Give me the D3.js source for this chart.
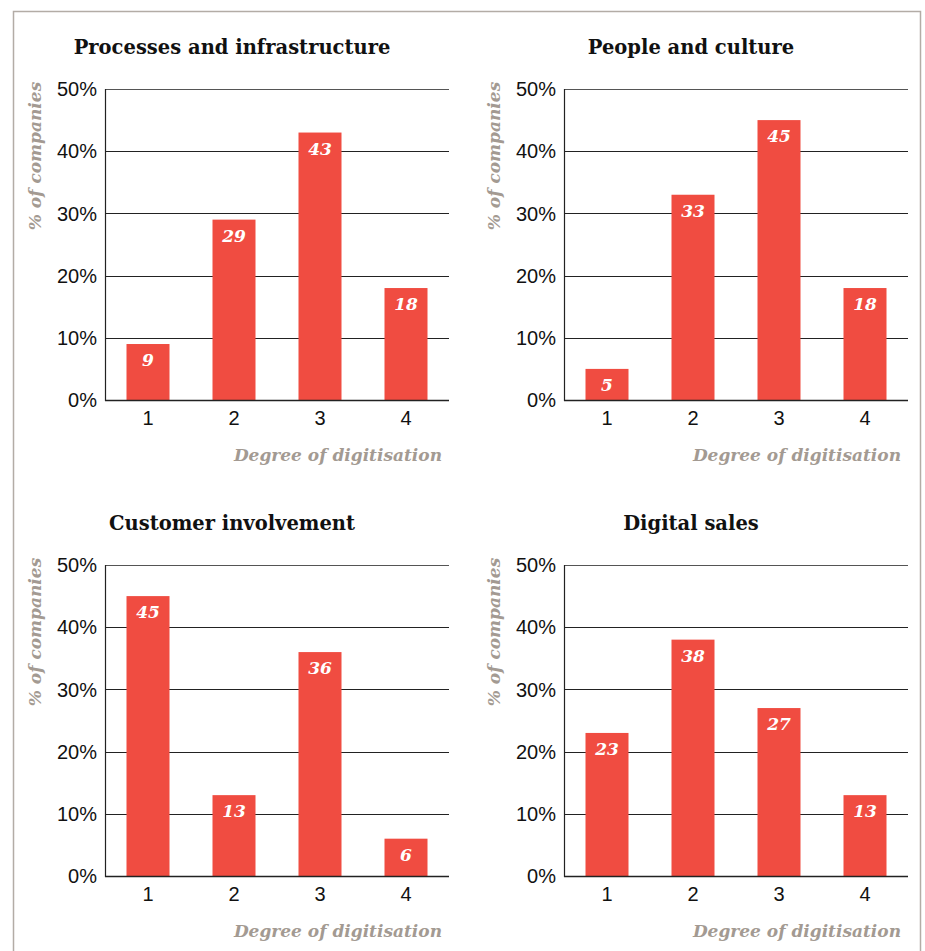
<!DOCTYPE html>
<html>
<head>
<meta charset="utf-8">
<script src="https://cdnjs.cloudflare.com/ajax/libs/d3/7.8.5/d3.min.js"></script>
<style>
  body { margin: 0; background: #fff; }
</style>
</head>
<body>
<svg id="chart" width="925" height="951"></svg>
<script>
var titles = ['Processes and infrastructure', 'People and culture', 'Customer involvement', 'Digital sales'];
var degrees = ['1', '2', '3', '4'];
var processesValues = [9, 29, 43, 18];
var peopleValues = [5, 33, 45, 18];
var customerValues = [45, 13, 36, 6];
var salesValues = [23, 38, 27, 13];
var yTicks = [0, 10, 20, 30, 40, 50];

var allValues = [processesValues, peopleValues, customerValues, salesValues];

var svg = d3.select('#chart');

// outer frame (left, top, right)
svg.append('path')
    .attr('d', 'M13.5,951 L13.5,11.5 L920.5,11.5 L920.5,951')
    .attr('fill', 'none')
    .attr('stroke', '#b3aca6')
    .attr('stroke-width', 1.5);

var panels = [
    {x0: 105, y0: 89},
    {x0: 564, y0: 89},
    {x0: 105, y0: 565},
    {x0: 564, y0: 565}
];
var plotW = 344, plotH = 311;

panels.forEach(function (p, i) {
    var values = allValues[i];
    var g = svg.append('g').attr('transform', 'translate(' + p.x0 + ',' + p.y0 + ')');

    var x = d3.scaleBand().domain(degrees).range([0, plotW]).paddingInner(0.5).paddingOuter(0.25);
    var y = d3.scaleLinear().domain([0, 50]).range([plotH, 0]);

    // title
    g.append('text')
        .attr('x', 127)
        .attr('y', -35)
        .attr('text-anchor', 'middle')
        .style('font-family', 'DejaVu Serif')
        .style('font-weight', 'bold')
        .style('font-size', '19.5px')
        .attr('fill', '#111')
        .text(titles[i]);

    // gridlines
    g.selectAll('.grid')
        .data(yTicks.slice(1))
        .enter()
        .append('line')
        .attr('x1', 0)
        .attr('x2', plotW)
        .attr('y1', function (d) { return Math.round(y(d)) + 0.5; })
        .attr('y2', function (d) { return Math.round(y(d)) + 0.5; })
        .attr('stroke', function (d) { return d === 50 ? '#555' : '#222'; })
        .attr('stroke-width', 1);

    // y tick labels
    g.selectAll('.ytick')
        .data(yTicks)
        .enter()
        .append('text')
        .attr('x', -8)
        .attr('y', function (d) { return y(d); })
        .attr('dy', '0.36em')
        .attr('text-anchor', 'end')
        .style('font-family', 'Liberation Sans')
        .style('font-size', '20px')
        .attr('fill', '#111')
        .text(function (d) { return d + '%'; });

    // bars
    g.selectAll('.bar')
        .data(values)
        .enter()
        .append('rect')
        .attr('x', function (d, j) { return x(degrees[j]); })
        .attr('y', function (d) { return y(d); })
        .attr('width', x.bandwidth())
        .attr('height', function (d) { return plotH - y(d); })
        .attr('fill', '#f04c41');

    // value labels
    g.selectAll('.val')
        .data(values)
        .enter()
        .append('text')
        .attr('x', function (d, j) { return x(degrees[j]) + x.bandwidth() / 2; })
        .attr('y', function (d) { return y(d) + 22; })
        .attr('text-anchor', 'middle')
        .style('font-family', 'DejaVu Serif')
        .style('font-style', 'italic')
        .style('font-weight', 'bold')
        .style('font-size', '17px')
        .attr('fill', '#fff')
        .text(function (d) { return d; });

    // axes lines
    g.append('line')
        .attr('x1', 0.5).attr('x2', 0.5)
        .attr('y1', 0).attr('y2', plotH + 1)
        .attr('stroke', '#222').attr('stroke-width', 1.2);
    g.append('line')
        .attr('x1', 0).attr('x2', plotW)
        .attr('y1', plotH + 0.5).attr('y2', plotH + 0.5)
        .attr('stroke', '#222').attr('stroke-width', 1.5);

    // x tick labels
    g.selectAll('.xtick')
        .data(degrees)
        .enter()
        .append('text')
        .attr('x', function (d) { return x(d) + x.bandwidth() / 2; })
        .attr('y', plotH + 25)
        .attr('text-anchor', 'middle')
        .style('font-family', 'Liberation Sans')
        .style('font-size', '20px')
        .attr('fill', '#111')
        .text(function (d) { return d; });

    // x axis title
    g.append('text')
        .attr('x', 337)
        .attr('y', plotH + 61)
        .attr('text-anchor', 'end')
        .style('font-family', 'DejaVu Serif')
        .style('font-style', 'italic')
        .style('font-weight', 'bold')
        .style('font-size', '17px')
        .attr('fill', '#a39a92')
        .text('Degree of digitisation');

    // y axis title
    g.append('text')
        .attr('transform', 'translate(-64,' + 67 + ')rotate(-90)')
        .attr('text-anchor', 'middle')
        .style('font-family', 'DejaVu Serif')
        .style('font-style', 'italic')
        .style('font-weight', 'bold')
        .style('font-size', '17px')
        .attr('fill', '#a39a92')
        .text('% of companies');
});
</script>
</body>
</html>
